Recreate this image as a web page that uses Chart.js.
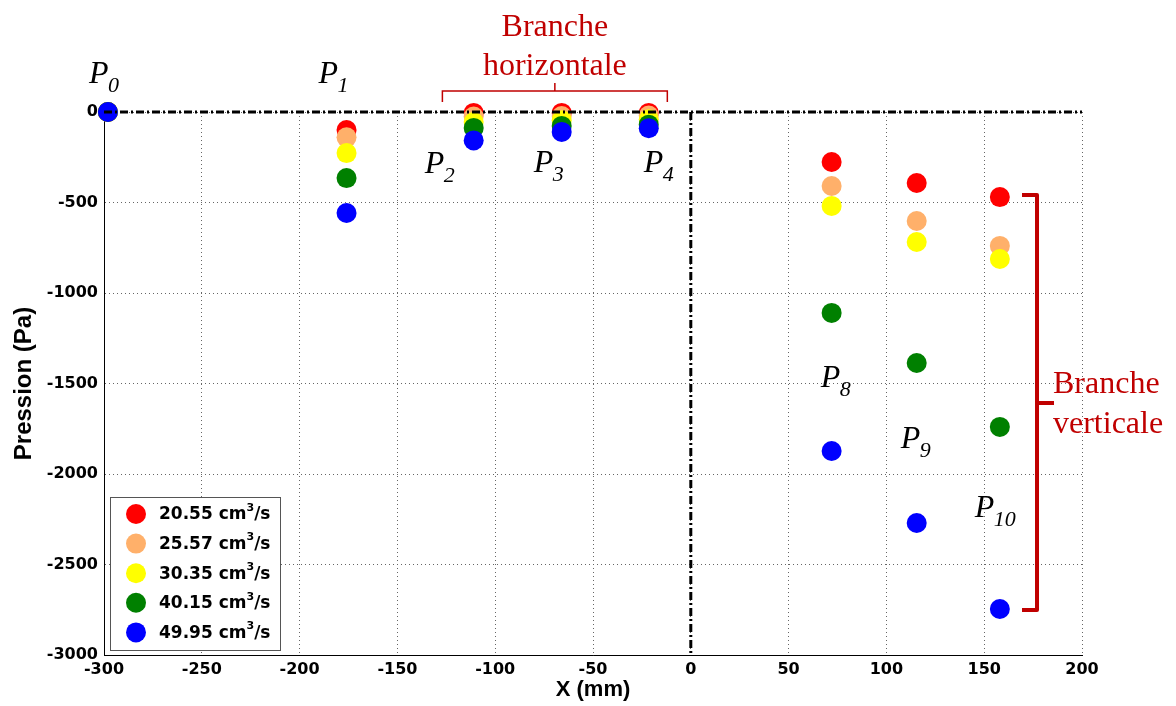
<!DOCTYPE html>
<html>
<head>
<meta charset="utf-8">
<script src="https://cdn.jsdelivr.net/npm/chart.js@4.4.0/dist/chart.umd.min.js"></script>
<style>
  html, body { margin: 0; padding: 0; background: #fff; }
  canvas { display: block; }
</style>
</head>
<body>
<canvas id="chart" width="1176" height="706"></canvas>
<script>
// positions des prises de pression le long de la conduite (mm)
const xPos = [-298, -176, -111, -66, -21.5, 72, 115.5, 158];
const tapNames = ['0', '1', '2', '3', '4', '8', '9', '10'];

// débits (cm3/s)
const flowRates = ['20.55', '25.57', '30.35', '40.15', '49.95'];

// pressions mesurées (Pa), une liste par débit
const p2055 = [0, -100, -5, -5, -5, -276, -392, -470];
const p2557 = [0, -140, -25, -22, -20, -409, -602, -740];
const p3035 = [0, -227, -55, -45, -40, -519, -718, -812];
const p4015 = [0, -365, -88, -77, -70, -1110, -1387, -1740];
const p4995 = [0, -558, -157, -110, -90, -1873, -2271, -2746];

const series = [p2055, p2557, p3035, p4015, p4995];
const colors = ['#ff0000', '#ffb06a', '#ffff00', '#008000', '#0000ff'];
const RED = '#c00000';

const tickFont = { family: 'DejaVu Sans', size: 16, weight: 'bold' };

// lignes mixtes, légende et annotations
const annotations = {
    id: 'annotations',
    afterDatasetsDraw(chart) {
        const { ctx, chartArea: a, scales: { x, y } } = chart;
        const x0 = x.getPixelForValue(0), y0 = y.getPixelForValue(0);
        ctx.save();
        ctx.strokeStyle = '#000';
        ctx.lineWidth = 3;
        ctx.setLineDash([8, 3, 2, 3]);
        ctx.beginPath();
        ctx.moveTo(a.left, y0); ctx.lineTo(a.right, y0);
        ctx.moveTo(x0, y0); ctx.lineTo(x0, a.bottom);
        ctx.stroke();
        ctx.restore();
    },
    afterDraw(chart) {
        const { ctx, scales: { x, y } } = chart;
        ctx.save();

        // légende
        const lx = 110, ly = 497, lw = 170, lh = 153;
        ctx.fillStyle = '#fff';
        ctx.fillRect(lx, ly, lw, lh);
        ctx.strokeStyle = '#555';
        ctx.lineWidth = 1;
        ctx.strokeRect(lx + 0.5, ly + 0.5, lw, lh);
        flowRates.forEach((f, i) => {
            const cy = ly + 17 + i * 29.6;
            ctx.fillStyle = colors[i];
            ctx.beginPath();
            ctx.arc(lx + 26, cy, 10, 0, Math.PI * 2);
            ctx.fill();
            ctx.fillStyle = '#000';
            ctx.textBaseline = 'middle';
            ctx.textAlign = 'left';
            ctx.font = 'bold 17px "DejaVu Sans"';
            const t1 = f + ' cm';
            ctx.fillText(t1, lx + 49, cy + 1);
            let w = ctx.measureText(t1).width;
            ctx.font = 'bold 11px "DejaVu Sans"';
            ctx.fillText('3', lx + 49 + w, cy - 6);
            w += ctx.measureText('3').width;
            ctx.font = 'bold 17px "DejaVu Sans"';
            ctx.fillText('/s', lx + 49 + w, cy + 1);
        });

        // noms des prises
        const labelOffsets = [[-19, 83], [-28, 83], [-49, 173], [-28, 172], [-5, 172], [-11, 387], [-16, 448], [-25, 517]];
        ctx.fillStyle = '#000';
        ctx.textBaseline = 'alphabetic';
        ctx.textAlign = 'left';
        tapNames.forEach((n, i) => {
            const px = x.getPixelForValue(xPos[i]) + labelOffsets[i][0];
            const py = labelOffsets[i][1];
            ctx.font = 'italic 32px "Liberation Serif"';
            ctx.fillText('P', px, py);
            ctx.font = 'italic 22px "Liberation Serif"';
            ctx.fillText(n, px + 19, py + 9);
        });

        // accolade horizontale
        ctx.strokeStyle = RED;
        ctx.lineWidth = 1.5;
        const bx1 = x.getPixelForValue(-127), bx2 = x.getPixelForValue(-12);
        const bxm = (bx1 + bx2) / 2;
        ctx.beginPath();
        ctx.moveTo(bx1, 102); ctx.lineTo(bx1, 91); ctx.lineTo(bx2, 91); ctx.lineTo(bx2, 102);
        ctx.moveTo(bxm, 91); ctx.lineTo(bxm, 83);
        ctx.stroke();

        // accolade verticale
        const vx = x.getPixelForValue(177);
        const vy1 = y.getPixelForValue(-458), vy2 = y.getPixelForValue(-2751);
        const vym = y.getPixelForValue(-1608);
        ctx.lineWidth = 4;
        ctx.lineJoin = 'round';
        ctx.beginPath();
        ctx.moveTo(vx - 15, vy1); ctx.lineTo(vx, vy1); ctx.lineTo(vx, vy2); ctx.lineTo(vx - 15, vy2);
        ctx.moveTo(vx, vym); ctx.lineTo(vx + 17, vym);
        ctx.stroke();

        ctx.fillStyle = RED;
        ctx.font = '32px "Liberation Serif"';
        ctx.textAlign = 'center';
        ctx.fillText('Branche', bxm, 36);
        ctx.fillText('horizontale', bxm, 75);
        ctx.textAlign = 'left';
        ctx.fillText('Branche', 1053, 393);
        ctx.fillText('verticale', 1053, 433);

        ctx.restore();
    }
};

new Chart(document.getElementById('chart'), {
    type: 'scatter',
    data: {
        datasets: series.map((s, i) => ({
            label: flowRates[i] + ' cm³/s',
            data: s.map((v, j) => ({ x: xPos[j], y: v })),
            backgroundColor: colors[i],
            borderWidth: 0,
            pointRadius: 10,
            pointHoverRadius: 10,
            clip: false,
            order: series.length - i
        }))
    },
    options: {
        responsive: false,
        animation: false,
        devicePixelRatio: 1,
        events: [],
        layout: { padding: { left: 0, top: 112, right: 94, bottom: 0 } },
        plugins: { legend: { display: false }, tooltip: { enabled: false } },
        scales: {
            x: {
                type: 'linear',
                min: -300, max: 200,
                afterFit: s => { s.height = 51; },
                ticks: { stepSize: 50, color: '#000', font: tickFont, padding: 5, maxRotation: 0, callback: v => String(v) },
                grid: { color: '#666', drawTicks: false },
                border: { color: '#000', width: 1, dash: [1, 3] },
                title: { display: true, text: 'X (mm)', color: '#000', font: { family: 'Liberation Sans', size: 22, weight: 'bold' }, padding: { top: 0, bottom: 3 } }
            },
            y: {
                min: -3000, max: 0,
                afterFit: s => { s.width = 104; },
                ticks: { stepSize: 500, color: '#000', font: tickFont, padding: 6, callback: v => String(v) },
                grid: { color: '#666', drawTicks: false },
                border: { color: '#000', width: 1, dash: [1, 3] },
                title: { display: true, text: 'Pression (Pa)', color: '#000', font: { family: 'Liberation Sans', size: 24, weight: 'bold' }, padding: { top: 10, bottom: 0 } }
            }
        }
    },
    plugins: [annotations]
});
</script>
</body>
</html>
